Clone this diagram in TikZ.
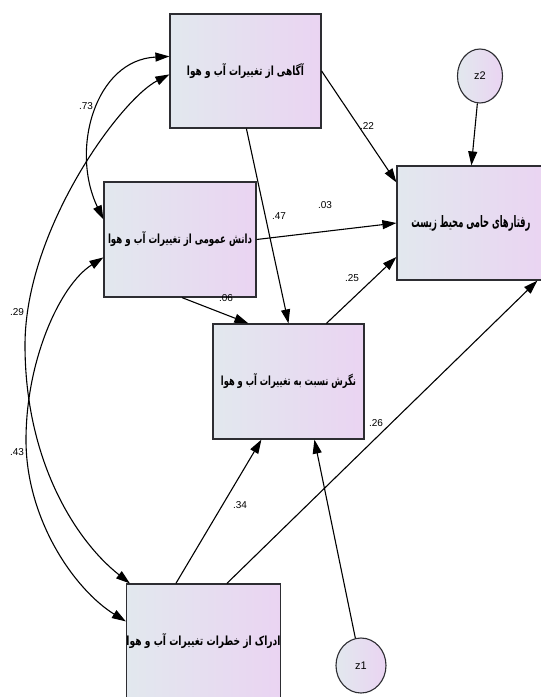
\documentclass[tikz,border=0pt]{standalone}
\usepackage{graphicx}
\usepackage{fontspec}
\setmainfont{Liberation Sans}
\newfontfamily\fa[Script=Arabic]{DejaVu Sans}
\TeXXeTstate=1
\usetikzlibrary{arrows.meta,shapes.geometric,calc}
\definecolor{gl}{RGB}{226,232,238}
\definecolor{gr}{RGB}{234,212,242}
\definecolor{bd}{RGB}{45,45,50}
\begin{document}
\begin{tikzpicture}[x=1pt,y=-1pt,
  sbox/.style={draw=bd, line width=1.2pt, left color=gl, right color=gr,
    minimum width=151pt, minimum height=114pt, inner sep=0pt},
  zcirc/.style={ellipse, draw=bd, line width=1.1pt, left color=gl, right color=gr,
    inner sep=0pt, font=\fontsize{11}{13}\selectfont},
  lbl/.style={font=\fontsize{10}{11}\selectfont, inner sep=0pt},
  path/.style={draw=black, line width=1.1pt, -{Triangle[length=14pt,width=9pt]}},
  cov/.style={draw=black, line width=1.1pt, {Triangle[length=14pt,width=9pt]}-{Triangle[length=14pt,width=9pt]}}]
\useasboundingbox (0,0) rectangle (541,697);
\fill[white] (0,0) rectangle (541,697);

\node[sbox] (b1) at (245.5,71) {\resizebox{117pt}{12pt}{\fa\bfseries\beginR آگاهی از تغییرات آب و هوا\endR}};
\node[sbox, minimum width=152pt, minimum height=115pt] (b2) at (180,239.5) {\resizebox{144pt}{12pt}{\fa\bfseries\beginR دانش عمومی از تغییرات آب و هوا\endR}};
\node[sbox, minimum width=148pt] (b3) at (471,223) {\resizebox{119pt}{12pt}{\fa\bfseries\beginR رفتارهای حامی محیط زیست\endR}};
\node[sbox, minimum height=115pt] (b4) at (288.5,381.5) {\resizebox{135pt}{12pt}{\fa\bfseries\beginR نگرش نسبت به تغییرات آب و هوا\endR}};
\node[sbox] (b5) at (203.5,641) {\raisebox{-5pt}{\resizebox{154pt}{12pt}{\fa\bfseries\beginR ادراک از خطرات تغییرات آب و هوا\endR}}};
\node[zcirc, minimum width=45pt, minimum height=54pt] (z2) at (480,76) {z2};
\node[zcirc, minimum width=50pt, minimum height=55pt] (z1) at (361,665.5) {z1};

% directed paths
\draw[path] (b1.east) -- ($(b3.north west)+(0,17)$);
\draw[path] (b2.east) -- ($(b3.west)+(0,0)$);
\draw[path] ($(b4.north west)+(114,0)$) -- ($(b3.west)+(0,34)$);
\draw[path] (z2) -- ($(b3.north west)+(75,0)$);
\draw[path] ($(b1.south west)+(77,0)$) -- (b4.north);
\draw[path] ($(b2.south)+(2,0)$) -- ($(b4.north west)+(36,0)$);
\draw[path] ($(b5.north west)+(50,0)$) -- ($(b4.south west)+(49,0)$);
\draw[path] (z1) -- ($(b4.south west)+(102,0)$);
\draw[path] ($(b5.north west)+(101,0)$) -- ($(b3.south west)+(141,0)$);

% covariances
\draw[cov] ($(b1.north west)+(0,43)$) .. controls (95,60) and (70,150) .. ($(b2.north west)+(0,38)$);
\draw[cov] ($(b1.north west)+(0,61)$) .. controls (120,100) and (25,230) .. (25,345)
   .. controls (25,460) and (75,540) .. ($(b5.north west)+(4,0)$);
\draw[cov] ($(b2.north west)+(0,76)$) .. controls (60,285) and (26,360) .. (26,440)
   .. controls (26,520) and (75,590) .. ($(b5.north west)+(0,38)$);

% labels
\node[lbl] (l22) at (367,126) {.22};
\node[lbl] (l03) at (325,205) {.03};
\node[lbl] (l47) at (279,216) {.47};
\node[lbl] (l06) at (226,298) {.06};
\node[lbl] (l25) at (352,278) {.25};
\node[lbl] (l26) at (376,423) {.26};
\node[lbl] (l34) at (240,505) {.34};
\node[lbl] (l73) at (86,106) {.73};
\node[lbl] (l29) at (17,312) {.29};
\node[lbl] (l43) at (17,452) {.43};
\end{tikzpicture}
\end{document}
